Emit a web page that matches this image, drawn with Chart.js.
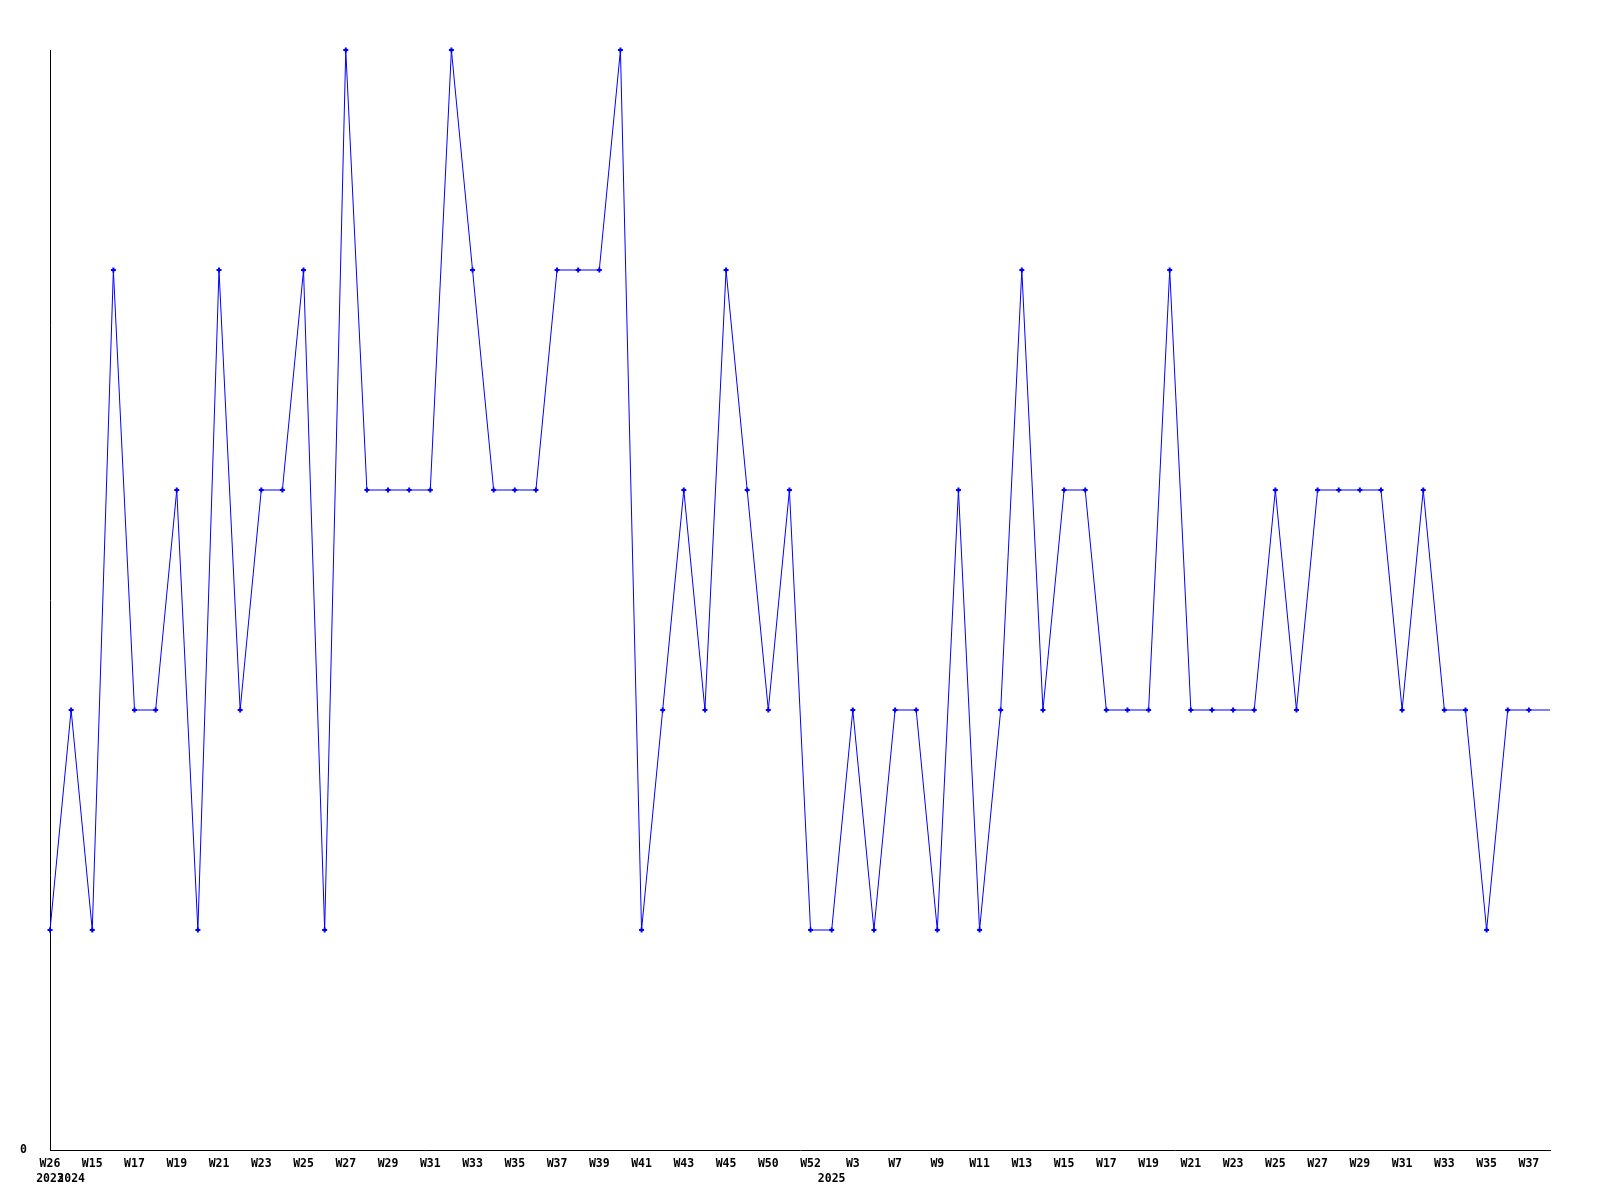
<!DOCTYPE html>
<html>
<head>
<meta charset="utf-8">
<script src="https://cdn.jsdelivr.net/npm/chart.js@4"></script>
<style>
  html, body { margin: 0; padding: 0; background: #fff; }
  canvas { display: block; }
</style>
</head>
<body>
<canvas id="weekChart" width="1600" height="1200"></canvas>
<script>
// one point per week
const weeks = [
  "W26", "W14", "W15", "W16", "W17", "W18", "W19", "W20", "W21", "W22",
  "W23", "W24", "W25", "W26", "W27", "W28", "W29", "W30", "W31", "W32",
  "W33", "W34", "W35", "W36", "W37", "W38", "W39", "W40", "W41", "W42",
  "W43", "W44", "W45", "W47", "W50", "W51", "W52", "W2", "W3", "W5",
  "W7", "W8", "W9", "W10", "W11", "W12", "W13", "W14", "W15", "W16",
  "W17", "W18", "W19", "W20", "W21", "W22", "W23", "W24", "W25", "W26",
  "W27", "W28", "W29", "W30", "W31", "W32", "W33", "W34", "W35", "W36",
  "W37", "W38"
];
const years = [
  "2023", "2024", "2024", "2024", "2024", "2024", "2024", "2024", "2024", "2024",
  "2024", "2024", "2024", "2024", "2024", "2024", "2024", "2024", "2024", "2024",
  "2024", "2024", "2024", "2024", "2024", "2024", "2024", "2024", "2024", "2024",
  "2024", "2024", "2024", "2024", "2024", "2024", "2024", "2025", "2025", "2025",
  "2025", "2025", "2025", "2025", "2025", "2025", "2025", "2025", "2025", "2025",
  "2025", "2025", "2025", "2025", "2025", "2025", "2025", "2025", "2025", "2025",
  "2025", "2025", "2025", "2025", "2025", "2025", "2025", "2025", "2025", "2025",
  "2025", "2025"
];
const counts = [
  1, 2, 1, 4, 2, 2, 3, 1, 4, 2,
  3, 3, 4, 1, 5, 3, 3, 3, 3, 5,
  4, 3, 3, 3, 4, 4, 4, 5, 1, 2,
  3, 2, 4, 3, 2, 3, 1, 1, 2, 1,
  2, 2, 1, 3, 1, 2, 4, 2, 3, 3,
  2, 2, 2, 4, 2, 2, 2, 2, 3, 2,
  3, 3, 3, 3, 2, 3, 2, 2, 1, 2,
  2, 2
];
const yMax = 5;

const tickFont = { family: "'DejaVu Sans Mono', monospace", size: 11.5, weight: "bold", lineHeight: 1.35 };

// the current (last) week has no marker
const radii = counts.map((v, i) => (i === counts.length - 1 ? 0 : 2.5));

const ctx = document.getElementById("weekChart").getContext("2d");
new Chart(ctx, {
  type: "line",
  data: {
    labels: weeks,
    datasets: [{
      data: counts,
      borderColor: "#0000ff",
      borderWidth: 1,
      fill: false,
      tension: 0,
      pointStyle: "cross",
      pointRadius: radii,
      pointBorderWidth: 2,
      pointBorderColor: "#0000ff",
      pointHoverRadius: 0,
      clip: false,
    }],
  },
  options: {
    responsive: false,
    animation: false,
    layout: { padding: { top: 50, right: 50, left: 0, bottom: 0 } },
    scales: {
      x: {
        offset: false,
        grid: { display: false, drawTicks: false },
        border: { display: true, color: "#000", width: 1 },
        afterFit: function (scale) { scale.height = 50; },
        ticks: {
          autoSkip: false,
          maxRotation: 0,
          padding: 6,
          color: "#000",
          font: tickFont,
          callback: function (value, index) {
            const wk = index % 2 === 0 ? weeks[index] : "";
            const yr = index === 0 || years[index] !== years[index - 1] ? years[index] : "";
            return [wk, yr];
          },
        },
      },
      y: {
        min: 0,
        max: yMax,
        grid: { display: false, drawTicks: false },
        border: { display: true, color: "#000", width: 1 },
        afterFit: function (scale) { scale.width = 50; },
        ticks: {
          stepSize: yMax,
          padding: 23,
          color: "#000",
          font: tickFont,
          callback: function (value) { return value === 0 ? "0" : ""; },
        },
      },
    },
    plugins: {
      legend: { display: false },
      tooltip: { enabled: false },
    },
  },
});
</script>
</body>
</html>
